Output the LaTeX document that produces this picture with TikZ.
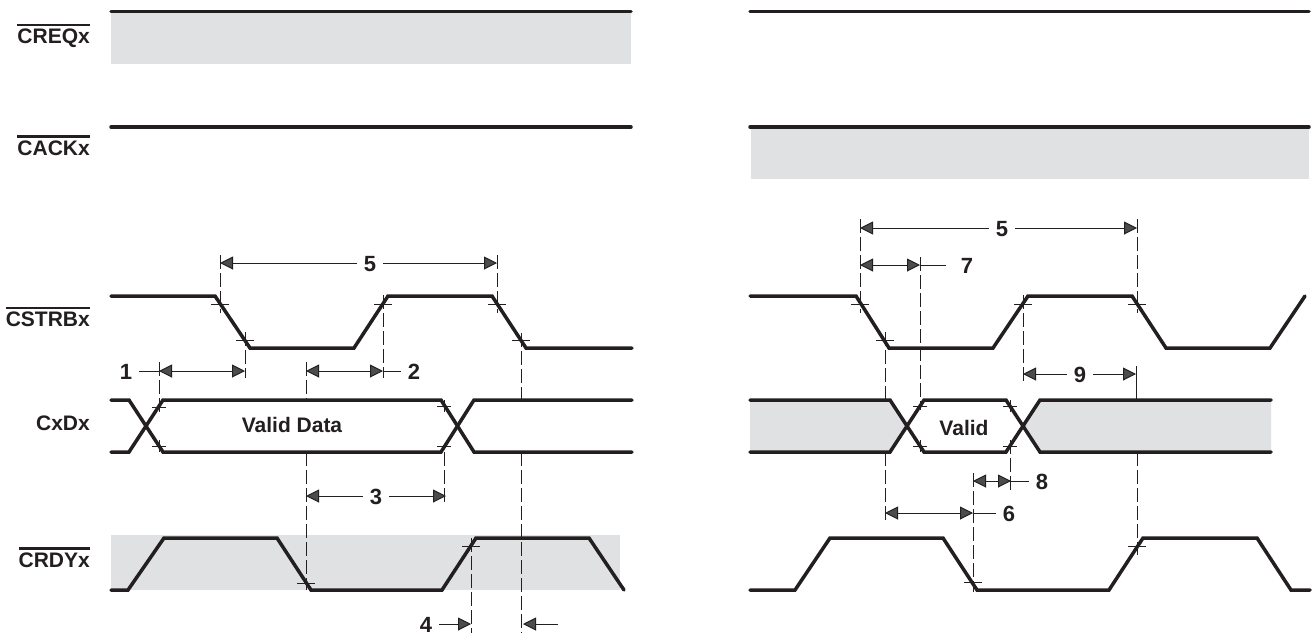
\documentclass[tikz,border=0pt]{standalone}
\usepackage{fontspec}
\setmainfont{Liberation Sans}
\usetikzlibrary{arrows.meta}
\definecolor{inkdark}{HTML}{231F20}
\definecolor{greyband}{HTML}{E0E1E3}
\newcommand{\barsig}[1]{\vbox{\hrule height 2.4pt \vskip 2.6pt \hbox{#1}}}

\begin{document}
\begin{tikzpicture}[x=1pt,y=-1pt,
	wave/.style={draw=inkdark,line width=3.5pt,line cap=round},
	guide/.style={draw=inkdark,line width=1pt,dash pattern=on 14pt off 4pt},
	cross/.style={draw=inkdark,line width=1pt},
	lead/.style={draw=inkdark,line width=1pt},
	span/.style={draw=inkdark,line width=1pt,{Triangle[length=13pt,width=13pt,fill=black!70]}-{Triangle[length=13pt,width=13pt,fill=black!70]}},
	head/.style={draw=inkdark,line width=1pt,-{Triangle[length=13pt,width=13pt,fill=black!70]}},
	sig/.style={anchor=base east,inner sep=0pt,text=inkdark,font=\fontsize{21}{24}\selectfont\bfseries},
	num/.style={inner sep=0pt,minimum width=26pt,text height=16pt,text depth=0pt,text=inkdark,font=\fontsize{22}{24}\selectfont\bfseries},
	]
	\useasboundingbox (0,0) rectangle (1312,641);
	\fill[white] (0,0) rectangle (1312,641);

	\fill[greyband] (111,12) rectangle (631,64);
	\fill[greyband] (751,127) rectangle (1309,179);
	\fill[greyband] (111,535) rectangle (620,590);
	\fill[greyband] (750,400) -- (890,400) -- (907,426) -- (890,452) -- (750,452) -- cycle;
	\fill[greyband] (1023,426) -- (1040,400) -- (1271,400) -- (1271,452) -- (1040,452) -- cycle;

	\node[sig] (creq) at (90,43.5) {\barsig{CREQx}};
	\node[sig] (cack) at (90,155) {\barsig{CACKx}};
	\node[sig] (cstrb) at (90,326.7) {\barsig{CSTRBx}};
	\node[sig] (cxdx) at (90,430) {CxDx};
	\node[sig] (crdy) at (90,567) {\barsig{CRDYx}};
	\node[sig,anchor=center] (valida) at (292,425) {Valid Data};
	\node[sig,anchor=center] (validb) at (964,428) {Valid};

	\draw[wave] (111,11.5) -- (631,11.5);
	\draw[wave] (750,11.5) -- (1309,11.5);
	\draw[wave] (111,127) -- (631,127);
	\draw[wave] (750,127) -- (1309,127);

	\draw[wave] (111,296) -- (215,296) -- (250,348) -- (354,348) -- (388,296) -- (492,296) -- (526,348) -- (632,348);
	\draw[wave] (111,400) -- (129,400) -- (163,452) -- (441,452) -- (474,400) -- (632,400);
	\draw[wave] (111,452) -- (129,452) -- (163,400) -- (441,400) -- (474,452) -- (632,452);
	\draw[wave] (111,590) -- (128,590) -- (164,538) -- (277,538) -- (311,590) -- (442,590) -- (476,538) -- (589,538) -- (624,590);

	\draw[wave] (750,296) -- (856,296) -- (889,348) -- (993,348) -- (1028,296) -- (1132,296) -- (1166,348) -- (1270,348) -- (1305,296);
	\draw[wave] (750,400) -- (890,400) -- (924,452) -- (1006,452) -- (1040,400) -- (1271,400);
	\draw[wave] (750,452) -- (890,452) -- (924,400) -- (1006,400) -- (1040,452) -- (1271,452);
	\draw[wave] (750,590) -- (795,590) -- (830,538) -- (943,538) -- (977,590) -- (1109,590) -- (1143,538) -- (1257,538) -- (1291,590) -- (1310,590);

	\foreach \tx/\ty in {220/304,245/340,383/304,497/304,521/340,306/583,471/546,
		860/304,885/340,1023/304,1137/304,973/582,1137/546}
		\draw[cross] (\tx-9,\ty) -- (\tx+9,\ty);
	\foreach \tx/\ty in {159/407,159/446,444/406,444/446,
		920/406,920/446,1010/406,1010/446}
		\draw[cross] (\tx-7,\ty) -- (\tx+7,\ty);

	\draw[guide] (220,255) -- (220,313);
	\draw[guide] (497,255) -- (497,313);
	\draw[guide] (245,332) -- (245,378);
	\draw[guide] (383,295) -- (383,378);
	\draw[guide] (159,362) -- (159,412);
	\draw[cross] (159,440) -- (159,452);
	\draw[guide] (306,362) -- (306,400);
	\draw[guide] (306,452) -- (306,590);
	\draw[guide] (521,333) -- (521,400);
	\draw[guide] (521,452) -- (521,633);
	\draw[cross] (444,400) -- (444,412);
	\draw[guide] (444,452) -- (444,503);
	\draw[guide] (471,538) -- (471,633);

	\draw[guide] (860,219) -- (860,313);
	\draw[guide] (1137,219) -- (1137,313);
	\draw[guide] (920,257) -- (920,410);
	\draw[cross] (920,440) -- (920,452);
	\draw[guide] (885,332) -- (885,400);
	\draw[guide] (885,452) -- (885,521);
	\draw[guide] (1023,295) -- (1023,383);
	\draw[cross] (1136,366) -- (1136,400);
	\draw[guide] (1137,452) -- (1137,555);
	\draw[cross] (1010,400) -- (1010,412);
	\draw[guide] (1010,440) -- (1010,490);
	\draw[guide] (973,473) -- (973,592);

	\node[num] (n1) at (126,371) {1};
	\node[num] (n2) at (414,371) {2};
	\node[num] (n3) at (376,496) {3};
	\node[num] (n4) at (426,624) {4};
	\node[num] (n5a) at (370,263) {5};
	\node[num] (n5b) at (1002,228) {5};
	\node[num] (n6) at (1009,513) {6};
	\node[num] (n7) at (967,265) {7};
	\node[num] (n8) at (1042,481) {8};
	\node[num] (n9) at (1080,374) {9};

	\coordinate (p1a) at (159,371);
	\coordinate (p1b) at (245,371);
	\coordinate (p2a) at (306,371);
	\coordinate (p2b) at (383,371);
	\coordinate (p3a) at (306,496);
	\coordinate (p3b) at (446,496);
	\coordinate (p4a) at (471,624);
	\coordinate (p4b) at (523,624);
	\coordinate (p4c) at (558,624);
	\coordinate (p5a) at (220,263);
	\coordinate (p5b) at (497,263);
	\coordinate (p5c) at (860,228);
	\coordinate (p5d) at (1137,228);
	\coordinate (p6a) at (885,513);
	\coordinate (p6b) at (973,513);
	\coordinate (p7a) at (860,265);
	\coordinate (p7b) at (920,265);
	\coordinate (p7c) at (946,265);
	\coordinate (p8a) at (973,481);
	\coordinate (p8b) at (1011,481);
	\coordinate (p9a) at (1023,374);
	\coordinate (p9b) at (1136,374);

	\draw[lead] (n1) -- (p1a);
	\draw[span] (p1a) -- (p1b);
	\draw[span] (p2a) -- (p2b);
	\draw[lead] (p2b) -- (n2);
	\draw[head] (n3) -- (p3a);
	\draw[head] (n3) -- (p3b);
	\draw[head] (n4) -- (p4a);
	\draw[head] (p4c) -- (p4b);
	\draw[head] (n5a) -- (p5a);
	\draw[head] (n5a) -- (p5b);
	\draw[head] (n5b) -- (p5c);
	\draw[head] (n5b) -- (p5d);
	\draw[span] (p6a) -- (p6b);
	\draw[lead] (p6b) -- (n6);
	\draw[span] (p7a) -- (p7b);
	\draw[lead] (p7b) -- (p7c);
	\draw[span] (p8a) -- (p8b);
	\draw[lead] (p8b) -- (n8);
	\draw[head] (n9) -- (p9a);
	\draw[head] (n9) -- (p9b);
\end{tikzpicture}
\end{document}
